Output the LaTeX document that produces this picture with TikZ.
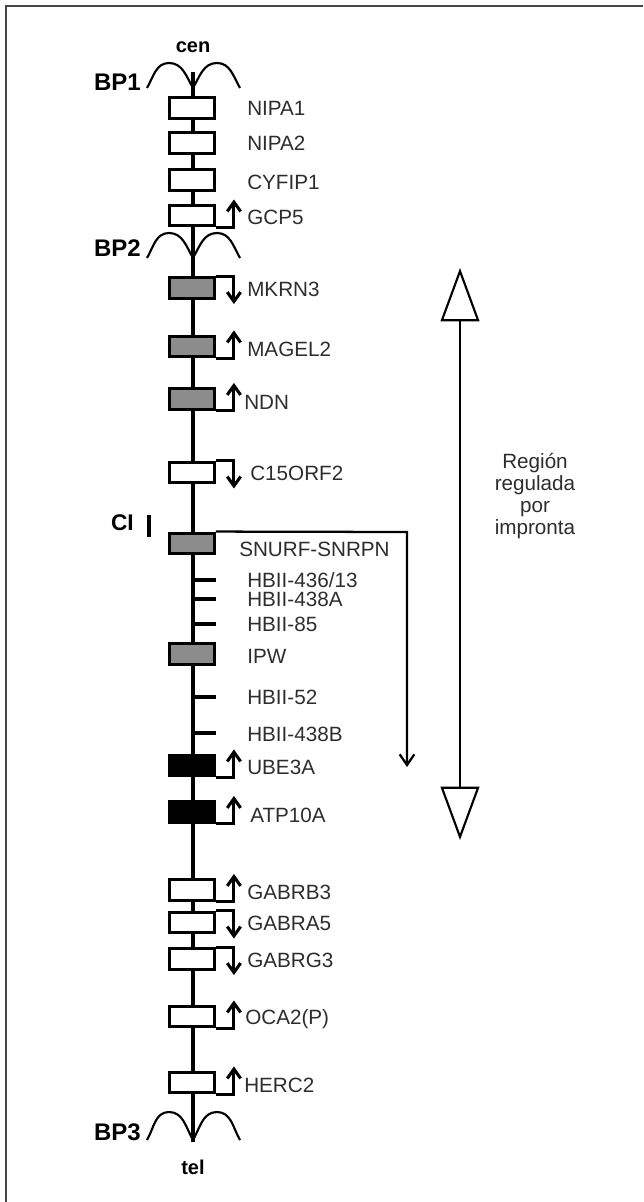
\documentclass[tikz,border=0pt]{standalone}
\usepackage{fontspec}
\setmainfont{Liberation Sans}
\usetikzlibrary{arrows.meta}
\definecolor{genegray}{RGB}{140,140,140}
\definecolor{txt}{RGB}{45,45,45}
\definecolor{framec}{RGB}{70,70,70}
\newcommand\bparc[2]{\draw[arcline] (147,#1) to[out=60,in=180] (169,#2) to[out=0,in=120] (193,#1) to[out=60,in=180] (217,#2) to[out=0,in=120] (240,#1);}
\newcommand\promup[1]{\draw[prom] (#1.south east) -- ++(18,0) -- ++(0,-28);}
\newcommand\promdown[1]{\draw[prom] (#1.north east) -- ++(18,0) -- ++(0,28);}
\begin{document}
\begin{tikzpicture}[x=0.75pt,y=-0.75pt,
  gene/.style={draw=black, line width=2.4pt, minimum width=33.5pt, minimum height=15.5pt, inner sep=0pt, fill=white},
  imp/.style={gene, fill=genegray},
  mat/.style={gene, fill=black},
  lbl/.style={anchor=west, inner sep=0pt, text height=11.1pt, text depth=0pt, font=\fontsize{15.5}{18}\selectfont, text=txt},
  bplbl/.style={anchor=east, inner sep=0pt, text height=13pt, text depth=0pt, font=\bfseries\fontsize{18}{20}\selectfont},
  endlbl/.style={inner sep=0pt, font=\bfseries\fontsize{15}{17}\selectfont},
  prom/.style={line width=2.3pt, line join=miter, -{Straight Barb[length=7pt,width=10pt]}},
  tickl/.style={line width=2.3pt},
  arcline/.style={line width=1.6pt},
  axis/.style={line width=2.3pt}
]
\useasboundingbox (0,0) rectangle (643,1202);
% frame
\draw[framec, line width=1.6pt] (6,1202) -- (6,6) -- (643,6);

% axis
\coordinate (top) at (193,72);
\coordinate (bot) at (193,1142);
\draw[axis] (top) -- (bot);

% end labels
\node[endlbl] (cen) at (193,47) {cen};
\node[endlbl, text height=11pt, text depth=0pt] (tel) at (193,1167) {tel};

% breakpoints
\bparc{88}{63}
\bparc{258}{233}
\bparc{1140}{1112}
\node[bplbl] (bp1) at (141,82) {BP1};
\node[bplbl] (bp2) at (141,248) {BP2};
\node[bplbl] (bp3) at (141,1132) {BP3};

% genes
\node[gene] (nipa1) at (192,108) {};
\node[lbl] (lnipa1) at (247,108) {NIPA1};
\node[gene] (nipa2) at (192,143) {};
\node[lbl] (lnipa2) at (247,143) {NIPA2};
\node[gene] (cyfip1) at (192,180) {};
\node[lbl] (lcyfip1) at (247,182) {CYFIP1};
\node[gene] (gcp5) at (192,215.5) {};
\node[lbl] (lgcp5) at (247,217) {GCP5};
\promup{gcp5}

\node[imp] (mkrn3) at (192,288) {};
\node[lbl] (lmkrn3) at (247,289) {MKRN3};
\promdown{mkrn3}
\node[imp] (magel2) at (192,346.5) {};
\node[lbl] (lmagel2) at (247,349) {MAGEL2};
\promup{magel2}
\node[imp] (ndn) at (192,399) {};
\node[lbl] (lndn) at (244,402) {NDN};
\promup{ndn}
\node[gene] (c15) at (192,472.5) {};
\node[lbl] (lc15) at (250,473) {C15ORF2};
\promdown{c15}

% CI
\node[bplbl, font=\bfseries\fontsize{17}{19}\selectfont] (ci) at (134,522) {CI};
\coordinate (ci1) at (149,515);
\coordinate (ci2) at (149,537);
\draw[line width=3pt] (ci1) -- (ci2);

\node[imp] (snurf) at (192,543.5) {};
\node[lbl] (lsnurf) at (239,549) {SNURF-SNRPN};
\coordinate (sncorner) at (407,532);
\coordinate (snend) at (407,767);
\draw[line width=1.7pt, -{Straight Barb[length=8pt,width=11pt]}] (snurf.north east) -- (sncorner) -- (snend);

\coordinate (t1) at (216,580);
\draw[tickl] (t1) -- (t1 -| 192,0);
\node[lbl] (lh1) at (247,580) {HBII-436/13};
\coordinate (t2) at (216,599);
\draw[tickl] (t2) -- (t2 -| 192,0);
\node[lbl] (lh2) at (247,599) {HBII-438A};
\coordinate (t3) at (216,624);
\draw[tickl] (t3) -- (t3 -| 192,0);
\node[lbl] (lh3) at (247,624) {HBII-85};
\node[imp] (ipw) at (192,654) {};
\node[lbl] (lipw) at (247,656) {IPW};
\coordinate (t4) at (216,697);
\draw[tickl] (t4) -- (t4 -| 192,0);
\node[lbl] (lh4) at (247,697) {HBII-52};
\coordinate (t5) at (216,733);
\draw[tickl] (t5) -- (t5 -| 192,0);
\node[lbl] (lh5) at (247,734) {HBII-438B};

\node[mat] (ube3a) at (192,765.5) {};
\node[lbl] (lube3a) at (247,767) {UBE3A};
\promup{ube3a}
\node[mat] (atp10a) at (192,812) {};
\node[lbl] (latp10a) at (250,815) {ATP10A};
\promup{atp10a}

\node[gene] (gabrb3) at (192,890) {};
\node[lbl] (lgabrb3) at (247,892) {GABRB3};
\promup{gabrb3}
\node[gene] (gabra5) at (192,922.5) {};
\node[lbl] (lgabra5) at (247,923) {GABRA5};
\promdown{gabra5}
\node[gene] (gabrg3) at (192,959) {};
\node[lbl] (lgabrg3) at (247,960) {GABRG3};
\promdown{gabrg3}
\node[gene] (oca2) at (192,1016.5) {};
\node[lbl] (loca2) at (245,1017) {OCA2(P)};
\promup{oca2}
\node[gene] (herc2) at (192,1082.5) {};
\node[lbl] (lherc2) at (244,1085) {HERC2};
\promup{herc2}

% imprinted region arrow
\coordinate (rtop) at (460,268);
\coordinate (rbot) at (460,840);
\draw[line width=1.6pt, {Triangle[open,length=40pt,width=29pt,line width=1.6pt]}-{Triangle[open,length=40pt,width=29pt,line width=1.6pt]}] (rtop) -- (rbot);
\node[align=center, inner sep=0pt, text=txt, font=\fontsize{15.5}{16.5}\selectfont] (reg) at (535,496) {Región\\regulada\\por\\impronta};
\end{tikzpicture}
\end{document}
